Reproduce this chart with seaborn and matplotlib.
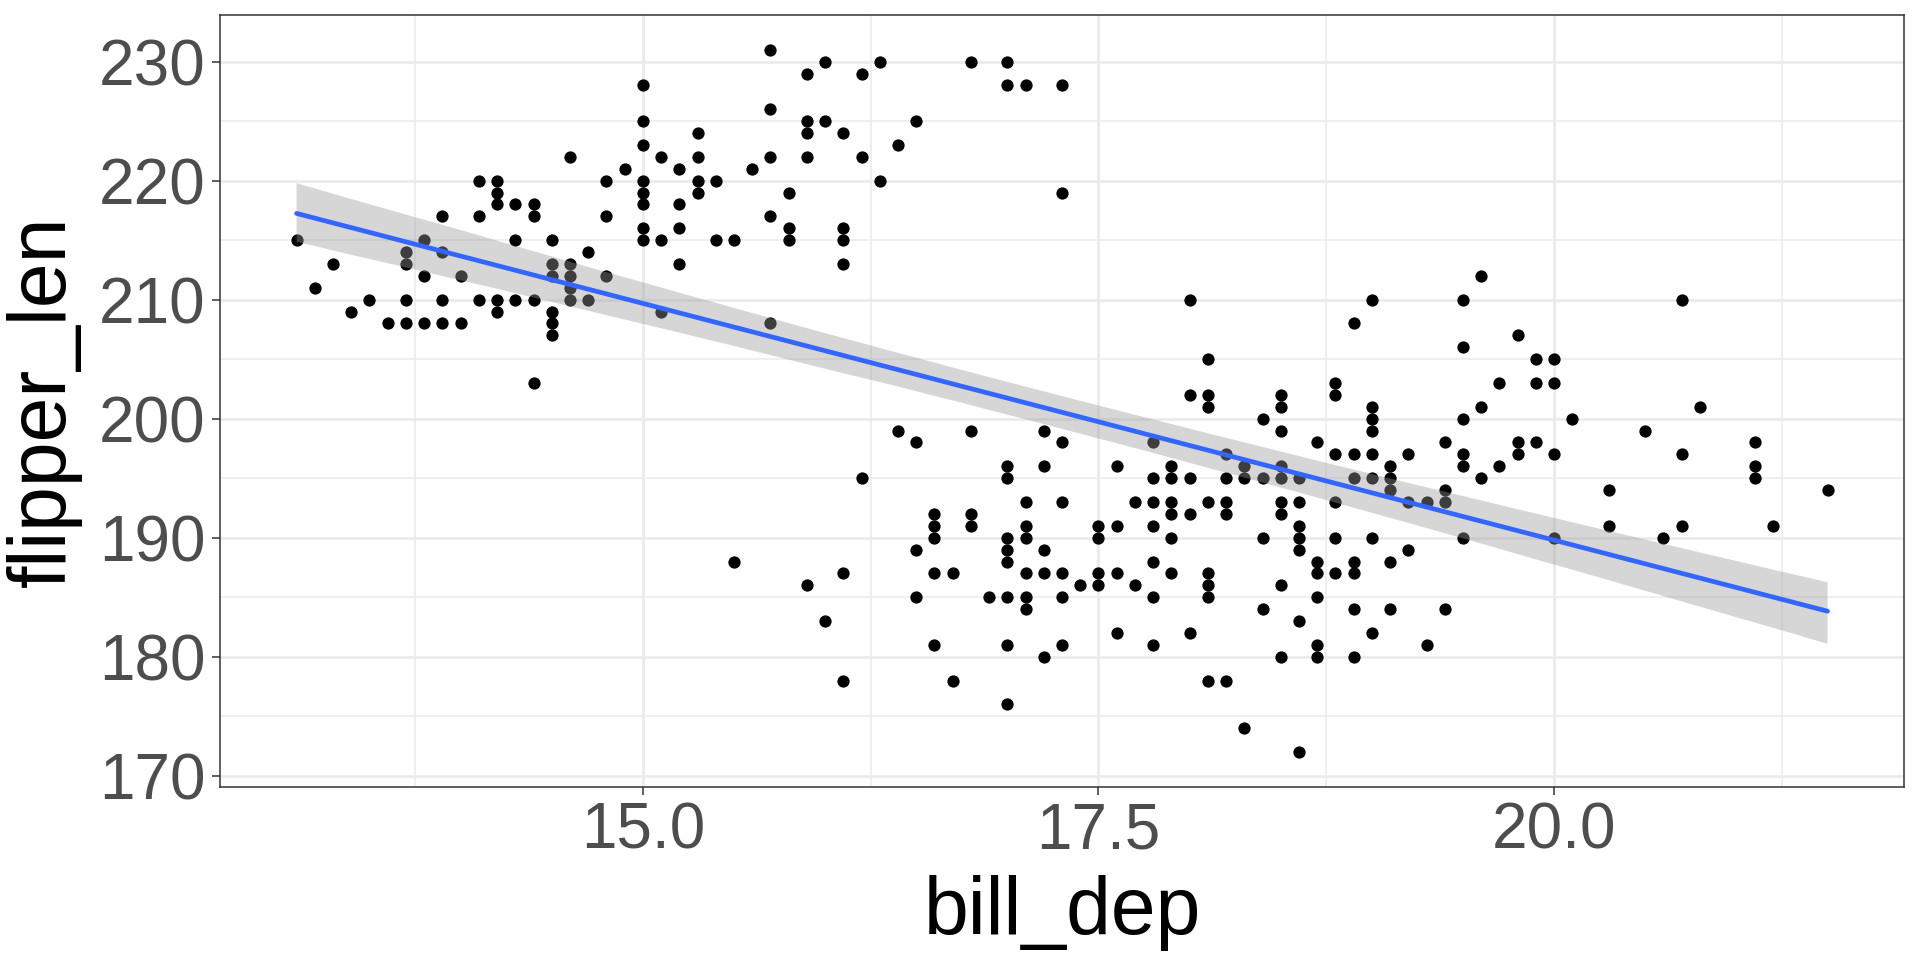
"""Nuage bill_dep / flipper_len avec droite de regression (style ggplot theme_bw)."""

import matplotlib

matplotlib.use("Agg")

import matplotlib.pyplot as plt
import pandas as pd
import seaborn as sns
from matplotlib.collections import PolyCollection
from matplotlib.ticker import FixedLocator


# valeurs, une ligne par profondeur de bec
bill_dep = [
    13.1, 13.2, 13.3, 13.4, 13.5, 13.6,
    13.7, 13.7, 13.7, 13.7,
    13.8, 13.8, 13.8,
    13.9, 13.9, 13.9, 13.9,
    14.0, 14.0,
    14.1, 14.1, 14.1,
    14.2, 14.2, 14.2, 14.2, 14.2,
    14.3, 14.3, 14.3,
    14.4, 14.4, 14.4, 14.4,
    14.5, 14.5, 14.5, 14.5, 14.5, 14.5,
    14.6, 14.6, 14.6, 14.6, 14.6,
    14.7, 14.7,
    14.8, 14.8, 14.8,
    14.9,
    15.0, 15.0, 15.0, 15.0, 15.0, 15.0, 15.0, 15.0,
    15.1, 15.1, 15.1,
    15.2, 15.2, 15.2, 15.2,
    15.3, 15.3, 15.3, 15.3,
    15.4, 15.4,
    15.5, 15.5,
    15.6,
    15.7, 15.7, 15.7, 15.7, 15.7,
    15.8, 15.8, 15.8,
    15.9, 15.9, 15.9, 15.9, 15.9,
    16.0, 16.0, 16.0,
    16.1, 16.1, 16.1, 16.1, 16.1, 16.1,
    16.2, 16.2, 16.2,
    16.3, 16.3,
    16.4, 16.4,
    16.5, 16.5, 16.5, 16.5,
    16.6, 16.6, 16.6, 16.6, 16.6,
    16.7, 16.7,
    16.8, 16.8, 16.8, 16.8,
    16.9,
    17.0, 17.0, 17.0, 17.0, 17.0, 17.0, 17.0, 17.0, 17.0, 17.0,
    17.1, 17.1, 17.1, 17.1, 17.1, 17.1, 17.1,
    17.2, 17.2, 17.2, 17.2, 17.2,
    17.3, 17.3, 17.3, 17.3, 17.3, 17.3, 17.3,
    17.4,
    17.5, 17.5, 17.5, 17.5,
    17.6, 17.6, 17.6, 17.6,
    17.7, 17.7,
    17.8, 17.8, 17.8, 17.8, 17.8, 17.8, 17.8,
    17.9, 17.9, 17.9, 17.9, 17.9, 17.9,
    18.0, 18.0, 18.0, 18.0, 18.0,
    18.1, 18.1, 18.1, 18.1, 18.1, 18.1, 18.1, 18.1,
    18.2, 18.2, 18.2, 18.2, 18.2,
    18.3, 18.3, 18.3,
    18.4, 18.4, 18.4, 18.4,
    18.5, 18.5, 18.5, 18.5, 18.5, 18.5, 18.5, 18.5, 18.5,
    18.6, 18.6, 18.6, 18.6, 18.6, 18.6, 18.6,
    18.7, 18.7, 18.7, 18.7, 18.7, 18.7,
    18.8, 18.8, 18.8, 18.8, 18.8, 18.8,
    18.9, 18.9, 18.9, 18.9, 18.9, 18.9, 18.9,
    19.0, 19.0, 19.0, 19.0, 19.0, 19.0, 19.0, 19.0,
    19.1, 19.1, 19.1, 19.1, 19.1,
    19.2, 19.2, 19.2,
    19.3, 19.3,
    19.4, 19.4, 19.4, 19.4,
    19.5, 19.5, 19.5, 19.5, 19.5, 19.5,
    19.6, 19.6, 19.6,
    19.7, 19.7,
    19.8, 19.8, 19.8,
    19.9, 19.9, 19.9,
    20.0, 20.0, 20.0, 20.0,
    20.1, 20.3, 20.3, 20.5, 20.6,
    20.7, 20.7, 20.7, 20.8,
    21.1, 21.1, 21.1, 21.2, 21.5,
]

flipper_len = [
    215, 211, 213, 209, 210, 208,
    208, 210, 213, 214,
    208, 212, 215,
    208, 210, 214, 217,
    208, 212,
    210, 217, 220,
    209, 210, 218, 219, 220,
    210, 215, 218,
    203, 210, 217, 218,
    207, 208, 209, 212, 213, 215,
    210, 211, 212, 213, 222,
    210, 214,
    212, 217, 220,
    221,
    215, 216, 218, 219, 220, 223, 225, 228,
    209, 215, 222,
    213, 216, 218, 221,
    219, 220, 222, 224,
    215, 220,
    188, 215,
    221,
    208, 217, 222, 226, 231,
    215, 216, 219,
    186, 222, 224, 225, 229,
    183, 225, 230,
    178, 187, 213, 215, 216, 224,
    195, 222, 229,
    220, 230,
    199, 223,
    185, 189, 198, 225,
    181, 187, 190, 191, 192,
    178, 187,
    191, 192, 199, 230,
    185,
    176, 181, 185, 188, 189, 190, 195, 196, 228, 230,
    184, 185, 187, 190, 191, 193, 228,
    180, 187, 189, 196, 199,
    181, 185, 187, 193, 198, 219, 228,
    186,
    186, 187, 190, 191,
    182, 187, 191, 196,
    186, 193,
    181, 185, 188, 191, 193, 195, 198,
    187, 190, 192, 193, 195, 196,
    182, 192, 195, 202, 210,
    178, 185, 186, 187, 193, 201, 202, 205,
    178, 192, 193, 195, 197,
    174, 195, 196,
    184, 190, 195, 200,
    180, 186, 192, 193, 195, 196, 199, 201, 202,
    172, 183, 189, 190, 191, 193, 195,
    180, 181, 185, 187, 188, 198,
    187, 190, 193, 197, 202, 203,
    180, 184, 187, 188, 195, 197, 208,
    182, 190, 195, 197, 199, 200, 201, 210,
    184, 188, 194, 195, 196,
    189, 193, 197,
    181, 193,
    184, 193, 194, 198,
    190, 196, 197, 200, 206, 210,
    195, 201, 212,
    196, 203,
    197, 198, 207,
    198, 203, 205,
    190, 197, 203, 205,
    200, 191, 194, 199, 190,
    191, 197, 210, 201,
    195, 196, 198, 191, 194,
]

x_ticks = [15.0, 17.5, 20.0]
x_tick_labels = ["15.0", "17.5", "20.0"]
x_minor = [13.75, 16.25, 18.75, 21.25]
y_ticks = [170, 180, 190, 200, 210, 220, 230]
y_minor = [175, 185, 195, 205, 215, 225]

assert len(bill_dep) == len(flipper_len)

df = pd.DataFrame({"bill_dep": bill_dep, "flipper_len": flipper_len})

sns.set_theme(style="white")
plt.rcParams["font.family"] = ["Liberation Sans", "DejaVu Sans"]

fig = plt.figure(figsize=(19.2, 9.6), dpi=100)
ax = fig.add_axes([0.1146, 0.1802, 0.8771, 0.8045])

sns.scatterplot(
    data=df,
    x="bill_dep",
    y="flipper_len",
    color="black",
    s=78,
    linewidth=0,
    zorder=2,
    ax=ax,
)
sns.regplot(
    data=df,
    x="bill_dep",
    y="flipper_len",
    scatter=False,
    color="#3366FF",
    n_boot=4000,
    seed=7,
    line_kws={"linewidth": 3.4, "zorder": 4},
    ax=ax,
)

# bande de confiance grise par-dessus les points, comme dans ggplot
for coll in ax.collections:
    if isinstance(coll, PolyCollection):
        coll.set_facecolor("#999999")
        coll.set_alpha(0.4)
        coll.set_edgecolor("none")
        coll.set_zorder(3)

x_span = max(bill_dep) - min(bill_dep)
y_span = max(flipper_len) - min(flipper_len)
ax.set_xlim(min(bill_dep) - 0.05 * x_span, max(bill_dep) + 0.05 * x_span)
ax.set_ylim(min(flipper_len) - 0.05 * y_span, max(flipper_len) + 0.05 * y_span)

ax.xaxis.set_major_locator(FixedLocator(x_ticks))
ax.xaxis.set_minor_locator(FixedLocator(x_minor))
ax.yaxis.set_major_locator(FixedLocator(y_ticks))
ax.yaxis.set_minor_locator(FixedLocator(y_minor))
ax.set_xticklabels(x_tick_labels)

ax.set_axisbelow(True)
ax.grid(which="major", color="#EBEBEB", linewidth=2.0)
ax.grid(which="minor", color="#EBEBEB", linewidth=1.1)

for spine in ax.spines.values():
    spine.set_visible(True)
    spine.set_color("#333333")
    spine.set_linewidth(1.1)
    spine.set_zorder(5)

ax.tick_params(
    which="major",
    length=5.5,
    width=1.1,
    color="#333333",
    labelcolor="#4D4D4D",
    labelsize=46,
    pad=5,
    bottom=True,
    left=True,
)
ax.tick_params(which="minor", length=0)

ax.set_xlabel("bill_dep", fontsize=58, color="black", labelpad=10)
ax.set_ylabel("flipper_len", fontsize=58, color="black", labelpad=12)

fig.savefig("out.png", dpi=100, facecolor="white")
